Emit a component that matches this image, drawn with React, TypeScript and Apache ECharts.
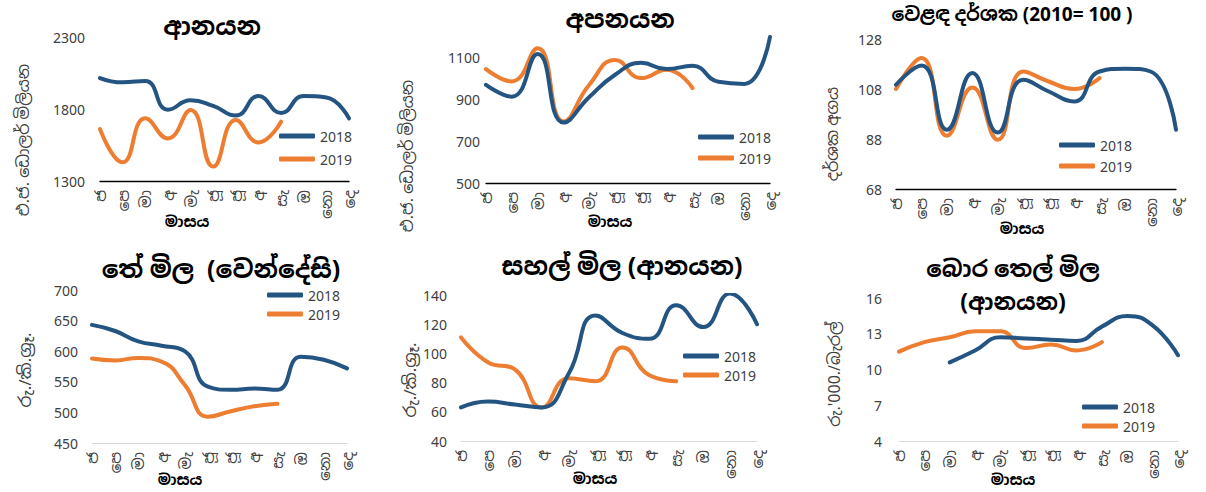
import React, { useEffect, useRef } from "react";
import * as echarts from "echarts";

const months = ["ජ", "පෙ", "මා", "අ", "මැ", "ජූ", "ජූ", "අ", "සැ", "ඔ", "නො", "දෙ"];
const seriesNames = ["2018", "2019"];

// Panel 1: imports (US$ mn)
const imports2018 = [2015, 1985, 1995, 1795, 1860, 1822, 1755, 1890, 1772, 1890, 1880, 1735];
const imports2019 = [1660, 1430, 1735, 1596, 1793, 1400, 1724, 1568, 1712];
const importsTicks = [1300, 1800, 2300];

// Panel 2: exports (US$ mn)
const exports2018 = [971, 914, 1118, 790, 912, 1019, 1076, 1046, 1062, 985, 975, 1200];
const exports2019 = [1046, 987, 1146, 795, 971, 1090, 1003, 1043, 955];
const exportsTicks = [500, 700, 900, 1100];

// Panel 3: terms of trade index (2010 = 100)
const index2018 = [109.7, 117.4, 91.7, 114.4, 90.6, 111.7, 107, 103, 115, 116.1, 115, 91.7];
const index2019 = [108, 120.4, 89.3, 108.6, 87.7, 115, 111, 108, 112.4];
const indexTicks = [68, 88, 108, 128];

// Panel 4: tea price (auction)
const tea2018 = [643, 633, 616, 609, 600, 542, 537, 539, 537, 591, 586, 572];
const tea2019 = [588, 585, 589, 583, 545, 493, 502, 510, 514];
const teaTicks = [450, 500, 550, 600, 650, 700];

// Panel 5: rice price (imports)
const rice2018 = [63, 67, 65, 63, 86, 126, 114, 110, 133, 118, 141, 120];
const rice2019 = [111, 94, 89, 63, 83, 81, 104, 85, 81];
const riceTicks = [40, 60, 80, 100, 120, 140];

// Panel 6: crude oil price (imports)
const oil2018 = [null, null, 10.6, 11.6, 12.7, 12.6, 12.5, 12.4, 13.6, 14.5, 13.7, 11.2];
const oil2019 = [11.5, 12.3, 12.7, 13.2, 13.2, 11.8, 12.1, 11.6, 12.3];
const oilTicks = [4, 7, 10, 13, 16];

const titles = [
  "ආනයන",
  "අපනයන",
  "වෙළඳ දර්ශක (2010= 100 )",
  "තේ මිල  (වෙන්දේසි)",
  "සහල් මිල (ආනයන)",
  "බොර තෙල් මිල",
  "(ආනයන)",
];
const yNames = [
  "එ.ජ. ඩොලර් මිලියන",
  "එ.ජ. ඩොලර් මිලියන",
  "දර්ශක අගය",
  "රු./කි.ග්‍රෑ.",
  "රු./කි.ග්‍රෑ.",
  "රු.'000./බැරල්",
];
const xName = "මාසය";

const BLUE = "#245582";
const ORANGE = "#ed7d31";
const FONT = "'Noto Sans', 'Noto Sans Sinhala', sans-serif";
const TXT = "#404040";

type Panel = {
  grid: { left: number; top: number; width: number; height: number };
  min: number;
  max: number;
  ticks: number[];
  d2018: (number | null)[];
  d2019: (number | null)[];
  axisColor: string;
  labelMargin: number;
  legend: { x: number; y1: number; y2: number };
  yName: { x: number; y: number; size: number };
  xName: { x: number; y: number };
};

const panels: Panel[] = [
  {
    grid: { left: 100, top: 37, width: 249, height: 144 },
    min: 1300, max: 2300, ticks: importsTicks,
    d2018: imports2018, d2019: imports2019,
    axisColor: "#000", labelMargin: 15,
    legend: { x: 279, y1: 136, y2: 159 },
    yName: { x: 23, y: 140, size: 16 }, xName: { x: 187, y: 221 },
  },
  {
    grid: { left: 486, top: 37, width: 284, height: 146 },
    min: 500, max: 1200, ticks: exportsTicks,
    d2018: exports2018, d2019: exports2019,
    axisColor: "#000", labelMargin: 6,
    legend: { x: 698, y1: 137, y2: 158 },
    yName: { x: 407, y: 156, size: 16 }, xName: { x: 610, y: 221 },
  },
  {
    grid: { left: 896, top: 39, width: 280, height: 150 },
    min: 68, max: 128, ticks: indexTicks,
    d2018: index2018, d2019: index2019,
    axisColor: "#000", labelMargin: 14,
    legend: { x: 1059, y1: 145, y2: 166 },
    yName: { x: 832, y: 134, size: 16 }, xName: { x: 1022, y: 228 },
  },
  {
    grid: { left: 92, top: 290, width: 255, height: 153 },
    min: 450, max: 700, ticks: teaTicks,
    d2018: tea2018, d2019: tea2019,
    axisColor: "#d9d9d9", labelMargin: 14,
    legend: { x: 267, y1: 295, y2: 314 },
    yName: { x: 24, y: 370, size: 17 }, xName: { x: 180, y: 479 },
  },
  {
    grid: { left: 461, top: 295, width: 296, height: 146 },
    min: 40, max: 140, ticks: riceTicks,
    d2018: rice2018, d2019: rice2019,
    axisColor: "#d9d9d9", labelMargin: 14,
    legend: { x: 683, y1: 356, y2: 375 },
    yName: { x: 409, y: 380, size: 17 }, xName: { x: 595, y: 478 },
  },
  {
    grid: { left: 899, top: 298, width: 279, height: 143 },
    min: 4, max: 16, ticks: oilTicks,
    d2018: oil2018, d2019: oil2019,
    axisColor: "#d9d9d9", labelMargin: 17,
    legend: { x: 1082, y1: 407, y2: 426 },
    yName: { x: 834, y: 374, size: 16 }, xName: { x: 1013, y: 479 },
  },
];

const titlePos = [
  { x: 212, y: 25, size: 25 },
  { x: 620, y: 18, size: 25 },
  { x: 1012, y: 14, size: 19 },
  { x: 221, y: 268, size: 25 },
  { x: 622, y: 265, size: 25 },
  { x: 1013, y: 268, size: 23 },
  { x: 1013, y: 301, size: 23 },
];

function textEl(text: string, x: number, y: number, size: number, bold: boolean, rotation = 0) {
  return {
    type: "text",
    x,
    y,
    rotation,
    style: {
      text,
      fill: bold ? "#000" : TXT,
      font: `${bold ? "bold " : ""}${size}px ${FONT}`,
      align: "center",
      verticalAlign: "middle",
      textAlign: "center",
      textVerticalAlign: "middle",
    },
  };
}

function buildOption() {
  const grid: any[] = [];
  const xAxis: any[] = [];
  const yAxis: any[] = [];
  const series: any[] = [];
  const legend: any[] = [];
  const graphic: any[] = [];

  panels.forEach((p, i) => {
    grid.push({ ...p.grid, containLabel: false });
    xAxis.push({
      type: "category",
      gridIndex: i,
      data: months,
      boundaryGap: false,
      axisLine: { show: true, lineStyle: { color: p.axisColor, width: p.axisColor === "#000" ? 1.3 : 1 } },
      axisTick: { show: false },
      axisLabel: {
        rotate: 90,
        interval: 0,
        margin: 9,
        color: TXT,
        fontSize: 15,
        fontFamily: FONT,
      },
      splitLine: { show: false },
    });
    yAxis.push({
      type: "value",
      gridIndex: i,
      min: p.min,
      max: p.max,
      axisLine: { show: false },
      axisTick: { show: false },
      splitLine: { show: false },
      axisLabel: {
        customValues: p.ticks,
        formatter: (v: number) => String(v),
        color: TXT,
        fontSize: 14,
        fontFamily: FONT,
        margin: p.labelMargin,
      },
    });
    series.push({
      name: seriesNames[0],
      type: "line",
      xAxisIndex: i,
      yAxisIndex: i,
      data: p.d2018,
      smooth: true,
      symbol: "none",
      connectNulls: false,
      lineStyle: { color: BLUE, width: 4, cap: "round" },
      itemStyle: { color: BLUE },
      z: 3,
    });
    series.push({
      name: seriesNames[1],
      type: "line",
      xAxisIndex: i,
      yAxisIndex: i,
      data: p.d2019,
      smooth: true,
      symbol: "none",
      lineStyle: { color: ORANGE, width: 4, cap: "round" },
      itemStyle: { color: ORANGE },
      z: 2,
    });
    [p.legend.y1, p.legend.y2].forEach((cy, k) => {
      legend.push({
        data: [seriesNames[k]],
        left: p.legend.x,
        top: cy - 7,
        padding: 0,
        itemWidth: 36,
        itemHeight: 5,
        itemGap: 0,
        icon: "roundRect",
        selectedMode: false,
        textStyle: { color: TXT, fontSize: 14, fontFamily: FONT, lineHeight: 14 },
      });
    });
    graphic.push(textEl(yNames[i], p.yName.x, p.yName.y, p.yName.size, false, Math.PI / 2));
    graphic.push(textEl(xName, p.xName.x, p.xName.y, 15, true));
  });

  titles.forEach((t, i) => {
    const tp = titlePos[i];
    graphic.push(textEl(t, tp.x, tp.y, tp.size, true));
  });

  return {
    animation: false,
    backgroundColor: "#ffffff",
    grid,
    xAxis,
    yAxis,
    series,
    legend,
    graphic,
  };
}

export default function App() {
  const ref = useRef<HTMLDivElement>(null);
  useEffect(() => {
    if (!ref.current) return;
    const chart = echarts.init(ref.current, undefined, { renderer: "svg" });
    chart.setOption(buildOption() as any);
    return () => chart.dispose();
  }, []);
  return (
    <div
      ref={ref}
      style={{ position: "fixed", left: 0, top: 0, width: 1206, height: 492, background: "#fff" }}
    />
  );
}
